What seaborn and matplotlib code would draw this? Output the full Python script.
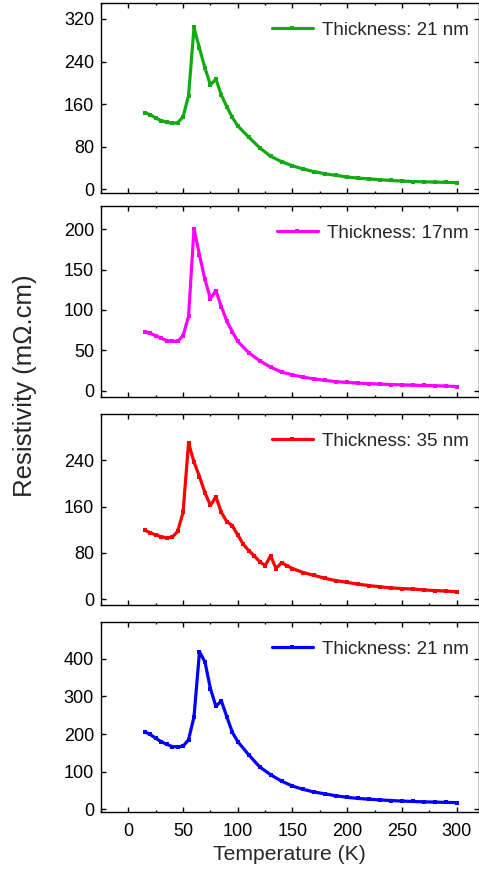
import matplotlib
matplotlib.use("Agg")
import matplotlib.pyplot as plt
from matplotlib.ticker import MultipleLocator
import seaborn as sns
import pandas as pd

sns.set_style("ticks")
plt.rcParams["font.family"] = ["Liberation Sans", "DejaVu Sans"]

# Temperature grids (K)
temp_a = [15, 20, 25, 30, 35, 40, 45, 50, 55, 60, 65, 70, 75, 80, 85, 90, 95, 100,
          110, 120, 130, 140, 150, 160, 170, 180, 190, 200, 210, 220, 230, 240,
          250, 260, 270, 280, 290, 300]
temp_c = [15, 20, 25, 30, 35, 40, 45, 50, 55, 60, 65, 70, 75, 80, 85, 90, 95, 100,
          105, 110, 115, 120, 125, 130, 135, 140, 145, 150, 160, 170, 180, 190,
          200, 210, 220, 230, 240, 250, 260, 270, 280, 290, 300]

# Resistivity (mOhm.cm)
rho_21a = [144, 140, 134, 129, 126, 124, 125, 136, 176, 304, 265, 228, 196, 207,
           177, 155, 135, 119, 98, 78, 62, 52, 44, 38, 33, 29, 26, 23, 21, 19.5,
           18, 16.5, 15.5, 14.5, 14, 13.5, 13, 12.5]
rho_17 = [73, 71, 68, 65, 62, 61, 61, 68, 92, 201, 168, 138, 114, 124, 104, 86,
          73, 61, 47, 37, 29, 23, 19.5, 16.5, 14.5, 12.5, 11, 10, 9.3, 8.5, 8,
          7.5, 7, 6.7, 6.3, 6, 5.6, 5]
rho_35 = [119, 115, 111, 108, 106, 107, 117, 150, 270, 237, 212, 184, 162, 177,
          150, 134, 127, 111, 95, 84, 75, 65, 58, 75, 53, 63, 58, 53, 46, 41, 36,
          32, 29, 26, 23.5, 21.5, 19.5, 18.5, 17.5, 16, 15, 14, 13]
rho_21b = [206, 199, 189, 180, 173, 167, 166, 168, 185, 246, 419, 392, 321, 274,
           288, 246, 205, 180, 145, 113, 92, 75, 62, 53, 46, 41, 36, 32, 29, 27,
           25, 23.5, 22, 21, 20, 19.3, 18.5, 18]

labels = ["Thickness: 21 nm", "Thickness: 17nm", "Thickness: 35 nm", "Thickness: 21 nm"]
colors = ["#14AA14", "#FF00FF", "#FF0000", "#0000FF"]
temps = [temp_a, temp_a, temp_c, temp_a]
rhos = [rho_21a, rho_17, rho_35, rho_21b]
yticks = [[0, 80, 160, 240, 320], [0, 50, 100, 150, 200], [0, 80, 160, 240],
          [0, 100, 200, 300, 400]]
ylims = [(-7, 350), (-8, 229), (-10, 320), (-7, 498)]

W, H = 479, 871
fig = plt.figure(figsize=(W / 100, H / 100), dpi=100)

# (top, bottom) of each panel in pixels
rows = [(3, 193), (206, 397), (414, 605), (622, 812)]
left_px, right_px = 101, 478.5

for i, (top, bot) in enumerate(rows):
    ax = fig.add_axes([left_px / W, 1 - bot / H, (right_px - left_px) / W, (bot - top) / H])
    df = pd.DataFrame({"T": temps[i], "rho": rhos[i]})
    sns.lineplot(data=df, x="T", y="rho", ax=ax, color=colors[i], lw=2.3,
                 marker="s", markersize=2.6, markeredgewidth=0, label=labels[i])
    ax.set_xlim(-25, 320)
    ax.set_ylim(*ylims[i])
    ax.set_yticks(yticks[i])
    ax.xaxis.set_major_locator(MultipleLocator(50))
    ax.xaxis.set_minor_locator(MultipleLocator(25))
    ax.tick_params(which="both", direction="in", top=True, right=True,
                   width=1.0, colors="black", labelsize=13)
    ax.tick_params(which="major", length=3.6, pad=5)
    ax.tick_params(axis="x", which="major", pad=8)
    ax.tick_params(which="minor", length=1.6)
    ax.tick_params(axis="y", which="minor", left=False, right=False)
    for s in ax.spines.values():
        s.set_linewidth(1.0)
        s.set_color("black")
    ax.set_xlabel("")
    ax.set_ylabel("")
    if i < 3:
        ax.tick_params(axis="x", labelbottom=False)
    leg = ax.legend(loc="center right", bbox_to_anchor=(0.975, 1 - 27 / (bot - top)),
                    frameon=False, fontsize=13.5, handlelength=2.2,
                    handletextpad=0.5, borderpad=0, borderaxespad=0)

fig.text((left_px + right_px) / 2 / W, 1 - 860 / H, "Temperature (K)",
         ha="center", va="baseline", fontsize=15.2)
fig.text(25 / W, 1 - 386 / H, "Resistivity (m\u03a9.cm)", rotation=90,
         ha="center", va="center", fontsize=18.5)

fig.savefig("out.png", dpi=100)
